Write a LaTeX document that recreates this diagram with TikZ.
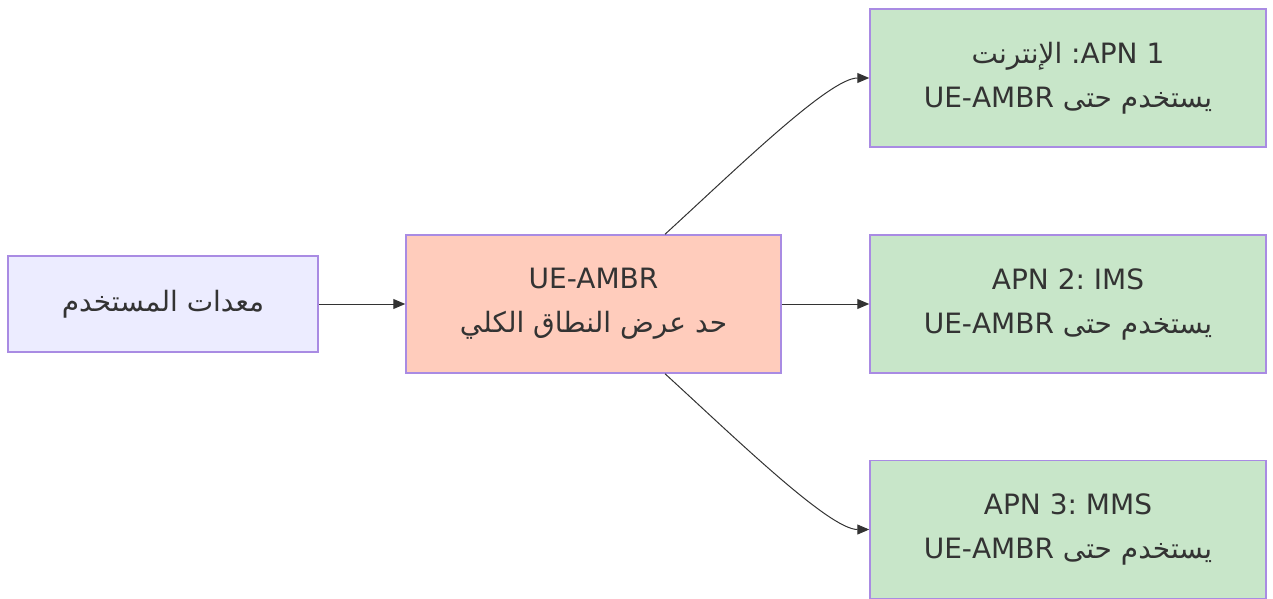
\documentclass[tikz,border=0pt]{standalone}
\usepackage{fontspec}
\setmainfont{DejaVu Sans}
\newfontfamily\arabicfont[Script=Arabic]{DejaVu Sans}
\TeXXeTstate=1
\frenchspacing
\usetikzlibrary{arrows.meta}
\definecolor{txt}{HTML}{333333}
\definecolor{edge}{HTML}{333333}
\definecolor{nstroke}{HTML}{A98BE3}
\definecolor{ueFill}{HTML}{ECECFF}
\definecolor{ambrFill}{HTML}{FFCCBC}
\definecolor{apnFill}{HTML}{C8E6C9}
\newcommand{\rtltxt}[1]{{\arabicfont\beginR #1\endR}}
\tikzset{
  box/.style={draw=nstroke, line width=1.5pt, inner sep=0pt, align=center,
    text=txt, font=\fontsize{28}{44}\selectfont},
  uebox/.style={box, fill=ueFill, minimum width=310pt, minimum height=96pt},
  ambrbox/.style={box, fill=ambrFill, minimum width=375pt, minimum height=138pt},
  apnbox/.style={box, fill=apnFill, minimum width=396pt, minimum height=138pt},
  arr/.style={draw=edge, line width=1pt, -{Triangle[length=12pt,width=10pt]}}
}
\begin{document}
\begin{tikzpicture}[x=1pt,y=-1pt]
\useasboundingbox (0,0) rectangle (1273,599);
\node[uebox] (ue) at (163,304) {\rtltxt{معدات المستخدم}};
\node[ambrbox] (ambr) at (593.5,304) {UE-AMBR\\\rtltxt{حد عرض النطاق الكلي}};
\node[apnbox] (apn1) at (1068,78) {{\arabicfont\beginR\beginL APN 1\endL: الإنترنت\endR}\\{\arabicfont\beginR يستخدم حتى \beginL UE-AMBR\endL\endR}};
\node[apnbox] (apn2) at (1068,304) {APN 2: IMS\\{\arabicfont\beginR يستخدم حتى \beginL UE-AMBR\endL\endR}};
\node[apnbox] (apn3) at (1068,529.5) {APN 3: MMS\\{\arabicfont\beginR يستخدم حتى \beginL UE-AMBR\endL\endR}};
\draw[arr] (ue.east) -- (ambr.west);
\draw[arr] (ambr.east) -- (apn2.west);
\draw[arr] ([xshift=71.5pt]ambr.north) .. controls +(70,-64) and +(-40,0) .. (apn1.west);
\draw[arr] ([xshift=71.5pt]ambr.south) .. controls +(70,64) and +(-40,0) .. (apn3.west);
\end{tikzpicture}
\end{document}
